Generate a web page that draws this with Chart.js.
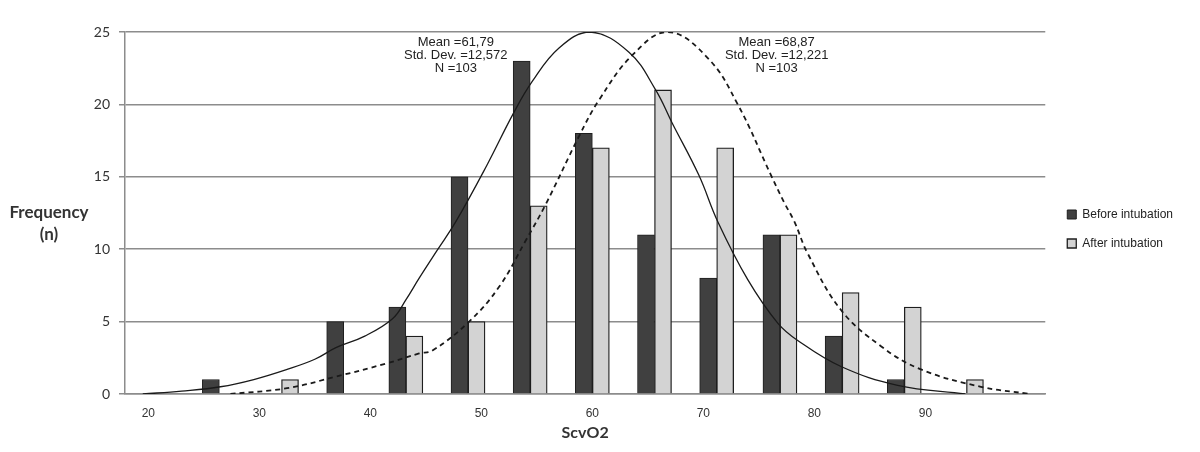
<!DOCTYPE html>
<html>
<head>
<meta charset="utf-8">
<title>ScvO2 before and after intubation</title>
<script src="https://cdn.jsdelivr.net/npm/chart.js@4/dist/chart.umd.min.js"></script>
<style>
  html, body { margin: 0; padding: 0; background: #fff; }
  #wrap { width: 1200px; height: 452px; position: relative; }
</style>
</head>
<body>
<div id="wrap"><canvas id="histChart"></canvas></div>
<script>
// bins (ScvO2 value at the centre of each bar pair)
const binCenters = [26.4, 32.0, 37.6, 43.2, 48.8, 54.4, 60.0, 65.6, 71.2, 76.9, 82.5, 88.1, 93.7];
const beforeCounts = [1, 0, 5, 6, 15, 23, 18, 11, 8, 11, 4, 1, 0];
const afterCounts = [0, 1, 0, 4, 5, 13, 17, 21, 17, 11, 7, 6, 1];

// fitted curves
const beforeCurveX = [19.5, 23.0, 26.5, 29.5, 32.5, 35.0, 36.9, 39.5, 42.0, 43.2, 44.4, 46.0, 47.7, 50.5, 52.9, 54.6, 57.0, 59.8, 63.3, 65.7, 67.2, 69.6, 71.3, 74.0, 76.7, 78.5, 82.4, 87.5, 93.6];
const beforeCurveY = [0, 0.2, 0.5, 1.0, 1.7, 2.4, 3.2, 4.0, 5.2, 6.5, 8.0, 9.9, 11.9, 15.8, 19.4, 21.6, 23.9, 25.0, 23.6, 21.0, 18.7, 15.1, 11.9, 7.9, 4.9, 3.7, 1.9, 0.6, 0];
const afterCurveX = [27.4, 32.5, 36.9, 41.4, 44.4, 45.6, 48.9, 51.6, 54.0, 55.8, 58.8, 60.6, 63.6, 66.8, 70.4, 73.1, 76.1, 77.3, 78.2, 79.4, 82.4, 86.0, 89.6, 95.0, 99.4];
const afterCurveY = [0, 0.4, 1.2, 2.1, 2.8, 3.0, 5.0, 7.4, 10.6, 13.1, 17.8, 20.3, 23.4, 25.0, 23.2, 20.0, 15.1, 13.2, 11.9, 9.7, 5.8, 3.3, 1.7, 0.5, 0];

const xTicks = [20, 30, 40, 50, 60, 70, 80, 90];
const yTicks = [0, 5, 10, 15, 20, 25];

const statsBefore = ["Mean =61,79", "Std. Dev. =12,572", "N =103"];
const statsAfter = ["Mean =68,87", "Std. Dev. =12,221", "N =103"];

const toPoints = (xs, ys) => xs.map((x, i) => ({ x: x, y: ys[i] }));

const gridGrey = "#8c8c8c";

const extraText = {
  id: "extraText",
  afterLayout(chart) {
    // nudge the legend up a bit, like the original
    const lg = chart.legend;
    lg.top -= 10;
    lg.bottom -= 10;
    lg.left += 5;
    lg.right += 5;
  },
  afterDatasetsDraw(chart) {
    const ctx = chart.ctx;
    const xs = chart.scales.x;
    const ys = chart.scales.y;
    ctx.save();
    ctx.fillStyle = "#222";
    ctx.textAlign = "center";
    ctx.textBaseline = "middle";
    ctx.font = "13px 'Liberation Sans', Arial, sans-serif";
    const top = ys.getPixelForValue(24.25);
    statsBefore.forEach((t, i) => ctx.fillText(t, xs.getPixelForValue(47.7), top + i * 13));
    statsAfter.forEach((t, i) => ctx.fillText(t, xs.getPixelForValue(76.6), top + i * 13));
    ctx.restore();
  },
  afterDraw(chart) {
    const ctx = chart.ctx;
    ctx.save();
    ctx.fillStyle = "#333";
    ctx.textAlign = "center";
    ctx.textBaseline = "middle";
    ctx.font = "bold 17px Lato, 'Open Sans', sans-serif";
    ctx.fillText("Frequency", 49, 213);
    ctx.fillText("(n)", 49, 235);
    ctx.restore();
  }
};

const ctx = document.getElementById("histChart").getContext("2d");
new Chart(ctx, {
  data: {
    datasets: [
      {
        type: "bar",
        label: "Before intubation",
        data: toPoints(binCenters, beforeCounts),
        backgroundColor: "#404040",
        borderColor: "#1e1e1e",
        borderWidth: 1,
        barThickness: 17,
        order: 2,
      },
      {
        type: "bar",
        label: "After intubation",
        data: toPoints(binCenters, afterCounts),
        backgroundColor: "#d3d3d3",
        borderColor: "#1e1e1e",
        borderWidth: 1.3,
        barThickness: 17,
        order: 2,
      },
      {
        type: "line",
        label: "curve before",
        data: toPoints(beforeCurveX, beforeCurveY),
        borderColor: "#1a1a1a",
        borderWidth: 1.3,
        pointRadius: 0,
        fill: false,
        tension: 0.4,
        order: 1,
      },
      {
        type: "line",
        label: "curve after",
        data: toPoints(afterCurveX, afterCurveY),
        borderColor: "#1a1a1a",
        borderWidth: 1.8,
        borderDash: [5, 4],
        pointRadius: 0,
        fill: false,
        tension: 0.4,
        order: 1,
      },
    ],
  },
  options: {
    responsive: true,
    maintainAspectRatio: false,
    animation: false,
    layout: { padding: { top: 32, right: 22, bottom: 6, left: 0 } },
    plugins: {
      tooltip: { enabled: false },
      legend: {
        position: "right",
        labels: {
          boxWidth: 9,
          boxHeight: 9,
          padding: 17,
          color: "#222",
          font: { family: "'Liberation Sans', Arial, sans-serif", size: 12 },
          filter: (item, data) => data.datasets[item.datasetIndex].type === "bar",
        },
      },
    },
    scales: {
      x: {
        type: "linear",
        offset: false,
        min: 17.9,
        max: 100.8,
        afterBuildTicks: (scale) => {
          scale.ticks = xTicks.map((v) => ({ value: v }));
        },
        afterFit: (scale) => {
          scale.height = 52;
        },
        grid: { display: false, drawTicks: false },
        border: { display: true, color: gridGrey, width: 1.5 },
        ticks: {
          padding: 12,
          maxRotation: 0,
          color: "#333",
          font: { family: "'Liberation Sans', Arial, sans-serif", size: 12 },
        },
        title: {
          display: true,
          text: "ScvO2",
          color: "#333",
          font: { family: "Lato, 'Open Sans', sans-serif", size: 16, weight: "bold" },
          padding: { top: 4, bottom: 4 },
        },
      },
      y: {
        min: 0,
        max: 25,
        afterFit: (scale) => {
          scale.width = 125;
        },
        afterBuildTicks: (scale) => {
          scale.ticks = yTicks.map((v) => ({ value: v }));
        },
        grid: { color: gridGrey, lineWidth: 1.5, tickLength: 6 },
        border: { display: true, color: gridGrey, width: 1.5 },
        ticks: {
          padding: 9,
          color: "#333",
          font: { family: "Lato, 'Open Sans', sans-serif", size: 14 },
        },
      },
    },
  },
  plugins: [extraText],
});
</script>
</body>
</html>
